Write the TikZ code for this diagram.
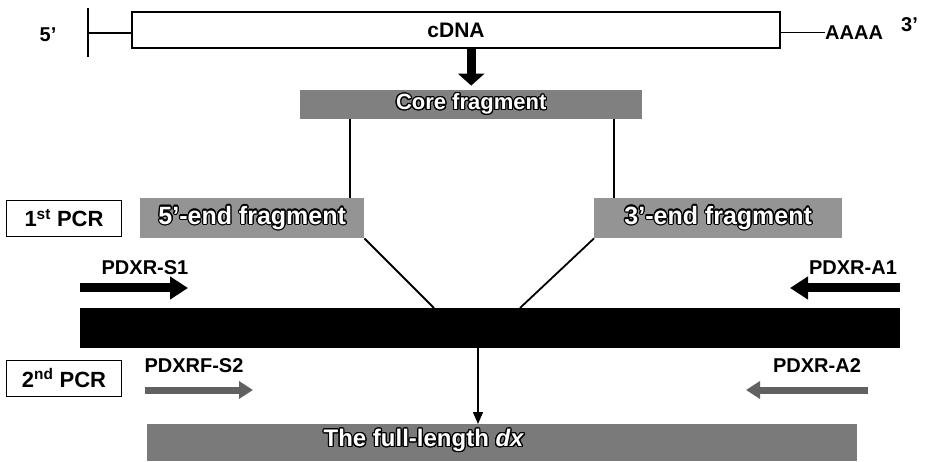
\documentclass[tikz,border=0pt]{standalone}
\usepackage{fontspec}
\setmainfont{Liberation Sans}
\usepackage{contour}
\contourlength{1.2pt}
\usetikzlibrary{arrows.meta}

\tikzset{
  tag/.style={font=\bfseries\fontsize{20}{20}\selectfont, inner sep=0pt},
  pcrbox/.style={draw, line width=0.8pt, minimum width=115pt, minimum height=36pt,
    inner sep=0pt, font=\bfseries\fontsize{22}{22}\selectfont},
  graybox/.style={fill=black!42, inner sep=0pt, anchor=north west,
    font=\bfseries\fontsize{25}{25}\selectfont},
  primer/.style={line width=9pt, -{Triangle[length=18pt,width=22pt]}},
  primertwo/.style={line width=7pt, black!62, -{Triangle[length=14pt,width=17pt]}},
}
% white letters, black rim
\newcommand{\outl}[1]{\contour{black}{\textcolor{white}{#1}}}

\begin{document}
\begin{tikzpicture}[x=1pt, y=-1pt]
  \useasboundingbox (0,0) rectangle (929,462);

  % the cDNA with its ends
  \node[draw, line width=1.2pt, minimum width=648pt, minimum height=36pt, inner sep=0pt,
    font=\bfseries\fontsize{21}{21}\selectfont] (cdna) at (456,30) {cDNA};
  \node[tag] (five) at (48,35) {5'};
  \coordinate (tick) at (88,33);
  \draw[line width=1.6pt] (88,8) -- (88,57);
  \draw[line width=1.6pt] (tick) -- (tick -| cdna.west);
  \node[tag, anchor=west] (polya) at (825,33) {AAAA};
  \node[tag, anchor=west] (three) at (901,25) {3'};
  \draw[line width=1pt] (tick -| cdna.east) -- (polya.west);

  % core fragment
  \node[graybox, fill=black!50, minimum width=342pt, minimum height=29pt,
    font=\bfseries\fontsize{22}{22}\selectfont] (core) at (300,90) {\outl{Core fragment}};
  \draw[line width=9pt, -{Triangle[length=12pt,width=26pt]}] (cdna.south -| core.north) -- ++(0,37);

  % 5' and 3' end fragments
  \node[graybox, minimum width=224pt, minimum height=40pt] (frag5) at (140,198) {\outl{5'-end fragment}};
  \node[graybox, minimum width=248pt, minimum height=40pt] (frag3) at (594,198) {\outl{3'-end fragment}};
  \coordinate (up5) at (350,119);
  \coordinate (up3) at (614,119);
  \draw[line width=2.6pt] (up5) -- (up5 |- frag5.north);
  \draw[line width=2.6pt] (up3) -- (up3 |- frag3.north);

  % 1st PCR
  \node[pcrbox] (pcr1) at (64,218) {1\textsuperscript{st} PCR};
  \node[tag] (s1) at (145,268) {PDXR-S1};
  \node[tag] (a1) at (853,268) {PDXR-A1};
  \coordinate (s1a) at (80,288);
  \coordinate (a1a) at (900,288);
  \draw[primer] (s1a) -- ++(108,0);
  \draw[primer] (a1a) -- ++(-110,0);

  % PCR product
  \node[fill=black, minimum width=820pt, minimum height=40pt, inner sep=0pt] (bar) at (490,328) {};
  \coordinate (m5) at (434,308);
  \coordinate (m3) at (520,308);
  \draw[line width=1.8pt] (frag5.south east) -- (m5);
  \draw[line width=1.8pt] (frag3.south west) -- (m3);

  % 2nd PCR
  \node[pcrbox] (pcr2) at (64,378) {2\textsuperscript{nd} PCR};
  \node[tag] (s2) at (194,366) {PDXRF-S2};
  \node[tag] (a2) at (817,366) {PDXR-A2};
  \coordinate (s2a) at (145,390);
  \coordinate (a2a) at (868,390);
  \draw[primertwo] (s2a) -- ++(108,0);
  \draw[primertwo] (a2a) -- ++(-122,0);

  % full length product
  \node[graybox, fill=black!52, minimum width=710pt, minimum height=37pt] (full) at (147,424) {};
  \node[inner sep=0pt, font=\bfseries\fontsize{24}{24}\selectfont] (fulltxt) at (424,441)
    {\outl{The full-length \emph{dx}}};
  \coordinate (drop) at (478,348);
  \draw[line width=1.4pt, -{Triangle[length=12pt,width=10pt]}] (drop) -- (drop |- full.north);
\end{tikzpicture}
\end{document}
